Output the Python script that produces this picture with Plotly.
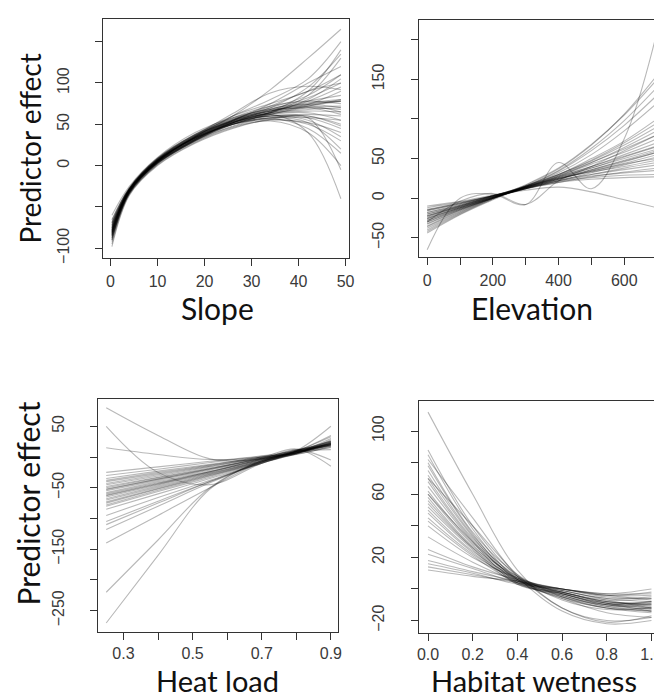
import plotly.graph_objects as go

# ---------------- data ----------------
slope_x = [0.3, 4, 10, 18, 26, 34, 42, 49]
slope_curves = [
    [-95, -35, 2, 30, 50, 62, 72, 80],
    [-88, -33, 4, 32, 52, 65, 78, 95],
    [-82, -31, 5, 34, 54, 66, 75, 78],
    [-78, -30, 6, 33, 51, 60, 62, 60],
    [-75, -29, 7, 35, 53, 62, 64, 55],
    [-70, -28, 8, 36, 55, 68, 82, 100],
    [-65, -27, 9, 38, 57, 70, 85, 110],
    [-60, -25, 10, 40, 58, 68, 70, 68],
    [-85, -32, 3, 30, 48, 58, 60, 50],
    [-90, -34, 1, 28, 46, 55, 52, 40],
    [-80, -30, 5, 33, 52, 64, 80, 105],
    [-76, -30, 6, 34, 53, 64, 72, 78],
    [-72, -29, 7, 35, 55, 67, 76, 80],
    [-84, -31, 4, 31, 50, 62, 70, 72],
    [-92, -34, 2, 30, 50, 64, 85, 130],
    [-68, -27, 8, 36, 54, 63, 66, 65],
    [-78, -30, 6, 34, 52, 60, 55, 35],
    [-82, -31, 5, 32, 50, 57, 45, 15],
    [-86, -32, 4, 31, 52, 65, 90, 140],
    [-74, -29, 7, 37, 58, 72, 78, 75],
    [-70, -28, 8, 37, 56, 69, 74, 70],
    [-80, -30, 5, 34, 55, 70, 95, 135],
    [-88, -33, 3, 29, 47, 54, 40, 0],
    [-76, -29, 6, 33, 50, 56, 50, 30],
    [-82, -31, 5, 32, 53, 66, 72, 65],
    [-79, -30, 6, 35, 56, 66, 70, 62],
    [-73, -29, 7, 36, 55, 64, 68, 70],
    [-84, -32, 4, 32, 55, 72, 90, 100],
    [-90, -33, 3, 31, 52, 62, 40, -40],
    [-66, -27, 9, 37, 53, 60, 58, 45],
    [-78, -30, 6, 35, 60, 92, 130, 165],
    [-80, -30, 5, 35, 60, 80, 105, 150],
    [-85, -32, 4, 31, 54, 75, 100, 120],
    [-72, -29, 7, 34, 52, 60, 60, 48],
    [-77, -30, 6, 33, 50, 58, 52, 20],
    [-83, -31, 5, 32, 52, 64, 74, 90],
    [-69, -28, 8, 38, 60, 75, 90, 110],
    [-87, -33, 3, 30, 52, 68, 78, 85],
    [-80, -30, 5, 33, 50, 58, 58, 55],
    [-75, -29, 6, 34, 54, 66, 74, 78],
    [-82, -31, 5, 36, 63, 88, 96, 92],
    [-98, -36, 0, 27, 45, 56, 58, -5],
]

elev_x = [0, 100, 200, 300, 400, 500, 600, 700]
elev_curves = [
    [-20, -10, 2, 12, 20, 24, 26, 27],
    [-22, -11, 1, 12, 21, 26, 29, 30],
    [-25, -12, 1, 12, 22, 28, 32, 35],
    [-28, -13, 0, 12, 23, 30, 36, 42],
    [-30, -14, 0, 13, 25, 33, 40, 48],
    [-18, -8, 2, 12, 22, 32, 42, 52],
    [-15, -6, 3, 13, 24, 35, 46, 58],
    [-12, -5, 3, 14, 26, 38, 50, 62],
    [-24, -11, 2, 14, 26, 38, 52, 65],
    [-26, -12, 1, 14, 27, 40, 55, 70],
    [-32, -15, 0, 14, 28, 43, 58, 75],
    [-35, -16, 0, 14, 29, 45, 62, 80],
    [-20, -9, 3, 15, 28, 45, 64, 85],
    [-16, -7, 3, 15, 30, 47, 67, 90],
    [-22, -10, 2, 16, 30, 48, 70, 95],
    [-28, -13, 1, 15, 30, 50, 72, 100],
    [-38, -18, 0, 15, 32, 55, 85, 120],
    [-40, -19, -1, 15, 34, 60, 92, 130],
    [-42, -20, -1, 15, 35, 63, 98, 140],
    [-44, -21, -2, 16, 37, 67, 106, 155],
    [-36, -17, 0, 17, 38, 68, 105, 150],
    [-18, -9, 3, 14, 25, 34, 44, 55],
    [-14, -6, 3, 13, 22, 30, 38, 45],
    [-10, -4, 4, 12, 20, 27, 33, 38],
    [-26, -12, 1, 13, 24, 34, 43, 50],
    [-30, -14, 0, 13, 25, 36, 47, 58],
    [-15, -7, 3, 10, 14, 8, -2, -12],
    [-65, 0, 5, -8, 45, 12, 75, 210],
    [-30, -4, 6, -8, 22, 40, 60, 80],
    [-33, -15, 1, 14, 27, 40, 53, 66],
    [-23, -10, 2, 13, 24, 36, 48, 60],
]

heat_x = [0.25, 0.4, 0.55, 0.7, 0.8, 0.9]
heat_curves = [
    [-25, -16, -7, 2, 10, 18],
    [-30, -20, -9, 1, 6, 20],
    [-35, -23, -12, 0, 9, 22],
    [-38, -25, -13, 0, 5, 16],
    [-40, -27, -14, -1, 11, 20],
    [-43, -29, -15, -1, 7, 24],
    [-45, -31, -16, -2, 4, 18],
    [-48, -33, -18, -2, 12, 21],
    [-50, -34, -19, -3, 8, 22],
    [-53, -36, -20, -3, 6, 19],
    [-55, -38, -21, -4, 10, 25],
    [-58, -40, -23, -4, 7, 23],
    [-60, -42, -24, -5, 9, 20],
    [-63, -44, -25, -5, 5, 28],
    [-65, -45, -26, -6, 11, 17],
    [-68, -47, -27, -6, 8, 21],
    [-70, -49, -28, -7, 6, 23],
    [-73, -51, -29, -7, 10, 26],
    [-75, -52, -30, -8, 7, 20],
    [-78, -54, -31, -8, 9, 24],
    [-80, -56, -33, -9, 5, 22],
    [-85, -60, -35, -10, 8, 26],
    [-95, -66, -38, -10, 6, 30],
    [-105, -72, -40, -10, 9, 35],
    [-110, -75, -40, -8, 7, 20],
    [-118, -80, -42, -8, 10, 50],
    [-140, -95, -50, -8, 8, 15],
    [80, 35, -3, -3, 12, -5],
    [50, -25, -45, -10, 6, 25],
    [15, 4, -4, 0, 13, -15],
    [-220, -135, -50, -6, 7, 20],
    [-270, -160, -52, -6, 9, 22],
    [-62, -43, -24, -3, 10, 33],
    [-52, -36, -19, -2, 9, 12],
]

wet_x = [0, 0.2, 0.4, 0.6, 0.8, 1.0]
wet_curves = [
    [112, 60, 12, -12, -20, -18],
    [88, 40, 8, -7, -13, -12],
    [85, 38, 6, -6, -12, -14],
    [80, 36, 9, -5, -12, -12],
    [78, 35, 5, -5, -10, -8],
    [75, 34, 7, -5, -12, -15],
    [72, 33, 4, -4, -11, -10],
    [70, 32, 8, -4, -10, -12],
    [68, 31, 6, -4, -11, -14],
    [65, 30, 3, -3, -10, -9],
    [62, 29, 7, -3, -9, -11],
    [60, 28, 5, -3, -10, -13],
    [58, 27, 8, -3, -9, -8],
    [56, 26, 4, -3, -9, -12],
    [54, 26, 6, -2, -8, -10],
    [52, 25, 3, -2, -9, -14],
    [50, 24, 7, -2, -8, -9],
    [48, 23, 5, -2, -7, -6],
    [45, 22, 6, -2, -8, -10],
    [43, 21, 4, -1, -7, -12],
    [40, 20, 7, -1, -6, -8],
    [33, 17, 5, -1, -6, -5],
    [25, 14, 6, 0, -4, -2],
    [22, 13, 4, 0, -5, -6],
    [18, 11, 5, 0, -3, 0],
    [16, 10, 3, 0, -4, -4],
    [14, 9, 4, 0, -4, -7],
    [12, 8, 5, 0, -3, -3],
    [82, 45, 8, -14, -22, -20],
    [70, 40, 9, -12, -21, -17],
    [60, 30, 6, -6, -15, -18],
]

panels = [
    dict(x=slope_x, curves=slope_curves, title="Slope",
         xrange=[-1.6, 50.8], xticks=[0, 10, 20, 30, 40, 50],
         xlabels=["0", "10", "20", "30", "40", "50"],
         yrange=[-111.5, 177.5], yticks=[-100, -50, 0, 50, 100, 150],
         ylabels=["\u2212100", "", "0", "50", "100", ""]),
    dict(x=elev_x, curves=elev_curves, title="Elevation",
         xrange=[-26, 703], xticks=[0, 100, 200, 300, 400, 500, 600, 700],
         xlabels=["0", "", "200", "", "400", "", "600", ""],
         yrange=[-74, 225], yticks=[-50, 0, 50, 100, 150, 200],
         ylabels=["\u221250", "0", "50", "", "150", ""]),
    dict(x=heat_x, curves=heat_curves, title="Heat load",
         xrange=[0.2264, 0.922], xticks=[0.3, 0.4, 0.5, 0.6, 0.7, 0.8, 0.9],
         xlabels=["0.3", "", "0.5", "", "0.7", "", "0.9"],
         yrange=[-284, 95], yticks=[-250, -200, -150, -100, -50, 0, 50],
         ylabels=["\u2212250", "", "\u2212150", "", "\u221250", "", "50"]),
    dict(x=wet_x, curves=wet_curves, title="Habitat wetness",
         xrange=[-0.042, 1.034], xticks=[0, 0.2, 0.4, 0.6, 0.8, 1.0],
         xlabels=["0.0", "0.2", "0.4", "0.6", "0.8", "1.0"],
         yrange=[-27.6, 119.3], yticks=[-20, 0, 20, 40, 60, 80, 100],
         ylabels=["\u221220", "", "20", "", "60", "", "100"]),
]

# ---------------- layout (pixel boxes) ----------------
W, H = 662, 697
boxes = [(94, 343, 11, 252), (413, 655, 12, 251), (89, 332, 394, 629), (413, 656, 396, 630)]
xtitle_pos = [(210, 323, 30), (528, 323, 30), (210, 698, 29), (530, 698, 29)]   # bottom of text box
xstandoff = [2, 2, 0, 0]
ytitle_pos = [(20, 142, 28), (18, 500, 30)]

fig = go.Figure()
layout = dict(width=W, height=H, margin=dict(l=0, r=0, t=0, b=0),
              paper_bgcolor="white", plot_bgcolor="white", showlegend=False)
annotations = []
axcol = "#333333"
tickfont = dict(family="Liberation Sans, Arial, sans-serif", size=16, color="#3a3a3a")

for i, p in enumerate(panels):
    n = "" if i == 0 else str(i + 1)
    x0, x1, y0, y1 = boxes[i]
    for c in p["curves"]:
        fig.add_trace(go.Scatter(x=p["x"], y=c, mode="lines",
                                 line=dict(color="rgba(0,0,0,0.28)", width=1.1, shape="spline", smoothing=1.0),
                                 xaxis="x" + n, yaxis="y" + n, hoverinfo="skip"))
    layout["xaxis" + n] = dict(domain=[x0 / W, x1 / W], anchor="y" + n, range=p["xrange"],
                              tickvals=p["xticks"], ticktext=p["xlabels"], ticks="outside",
                              ticklen=7, tickwidth=1, tickcolor=axcol, showline=True, linecolor=axcol,
                              linewidth=1, mirror=True, showgrid=False, zeroline=False,
                              tickfont=tickfont, ticklabelstandoff=xstandoff[i])
    layout["yaxis" + n] = dict(domain=[1 - y1 / H, 1 - y0 / H], anchor="x" + n, range=p["yrange"],
                              tickvals=p["yticks"], ticktext=p["ylabels"], ticks="outside",
                              ticklen=7, tickwidth=1, tickcolor=axcol, showline=True, linecolor=axcol,
                              linewidth=1, mirror=True, showgrid=False, zeroline=False,
                              tickfont=tickfont, tickangle=-90, ticklabelstandoff=20)
    tx, ty, fs = xtitle_pos[i]
    annotations.append(dict(text=p["title"], x=tx / W, y=1 - ty / H, xref="paper", yref="paper",
                            showarrow=False,
                            font=dict(family="Lato, Open Sans, sans-serif", size=fs, color="#111111"),
                            xanchor="center", yanchor="bottom"))

for (tx, ty, fs) in ytitle_pos:
    annotations.append(dict(text="Predictor effect", x=tx / W, y=1 - ty / H, xref="paper", yref="paper",
                            showarrow=False,
                            font=dict(family="Lato, Open Sans, sans-serif", size=fs, color="#111111"),
                            textangle=-90, xanchor="center", yanchor="middle"))

layout["annotations"] = annotations
fig.update_layout(**layout)
fig.write_html("out.html")
